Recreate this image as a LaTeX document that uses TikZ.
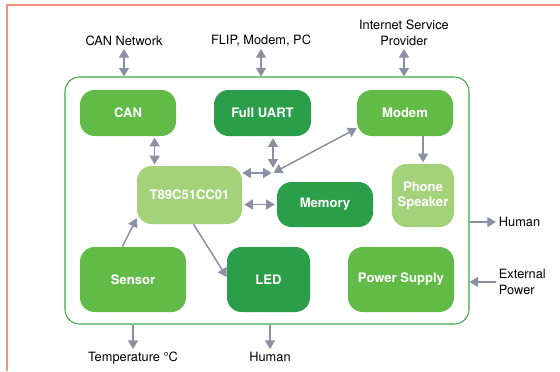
\documentclass[tikz,border=0pt]{standalone}
\usepackage{fontspec}
\setmainfont{TeX Gyre Heros}
\usetikzlibrary{arrows.meta}

\definecolor{midgreen}{HTML}{62BB47}
\definecolor{darkgreen}{HTML}{2A9E48}
\definecolor{lightgreen}{HTML}{A3D27B}
\definecolor{framegreen}{HTML}{3EA84A}
\definecolor{linkgray}{HTML}{8A8FA2}
\definecolor{salmon}{HTML}{F4907A}

\begin{document}
\begin{tikzpicture}[x=0.75pt, y=-0.75pt, >={Triangle[length=6.5pt,width=7.5pt]},
    block/.style={rounded corners=11pt, text=white, inner sep=0pt, align=center,
                  font=\bfseries\fontsize{9.8}{11.5}\selectfont},
    board/.style={draw=framegreen, line width=0.8pt, rounded corners=11pt},
    lbl/.style={inner sep=2pt, align=center, font=\fontsize{9.6}{12}\selectfont},
    link/.style={draw=linkgray, line width=1.1pt}]
    \useasboundingbox (0,0) rectangle (560,371);

    % page edge
    \draw[salmon, line width=1.5pt] (7,371) -- (7,5) -- (560,5);

    \node[board, minimum width=303pt, minimum height=185.25pt] (board) at (267,200.5) {};

    \node[block, fill=midgreen,   minimum width=72pt,    minimum height=34.5pt]  (can)    at (128,113)     {CAN};
    \node[block, fill=darkgreen,  minimum width=72.75pt, minimum height=34.5pt]  (uart)   at (262.5,113)   {Full UART};
    \node[block, fill=midgreen,   minimum width=72pt,    minimum height=34.5pt]  (modem)  at (405,113)     {Modem};
    \node[block, fill=lightgreen, minimum width=78.75pt, minimum height=43.5pt]  (t89)    at (189.5,195)   {T89C51CC01};
    \node[block, fill=darkgreen,  minimum width=72pt,    minimum height=33.75pt] (memory) at (325,204.5)   {Memory};
    \node[block, fill=lightgreen, minimum width=46.5pt,  minimum height=47.25pt] (phone)  at (423,195.5)   {Phone\\Speaker};
    \node[block, fill=midgreen,   minimum width=79.5pt,  minimum height=48.75pt] (sensor) at (133,279.5)   {Sensor};
    \node[block, fill=darkgreen,  minimum width=62.25pt, minimum height=48.75pt] (led)    at (268.5,279.5) {LED};
    \node[block, fill=midgreen,   minimum width=79.5pt,  minimum height=48.75pt] (power)  at (401,279.5)   {Power Supply};

    % outside world
    \node[lbl, anchor=south] (cannet) at (124,49)  {CAN Network};
    \node[lbl, anchor=south] (flip)   at (261,49)  {FLIP, Modem, PC};
    \node[lbl, anchor=south] (isp)    at (404,49)  {Internet Service\\Provider};
    \node[lbl, anchor=west]  (humanr) at (496,222) {Human};
    \node[lbl, anchor=west, align=left] (extpow) at (496,282) {External\\Power};
    \node[lbl, anchor=north] (temp)   at (133,349) {Temperature °C};
    \node[lbl, anchor=north] (humanb) at (270,349) {Human};

    \coordinate (hub) at (273,173);

    \draw[<->, link] (cannet.south) -- (cannet.south |- board.north);
    \draw[<->, link] (flip.south) -- (flip.south |- board.north);
    \draw[<->, link] (isp.south) -- (isp.south |- board.north);

    \draw[<->, link, shorten <=1pt, shorten >=1pt] ([xshift=20pt]can.south) -- ([xshift=20pt]can.south |- t89.north);
    \draw[<->, link, shorten <=1.5pt, shorten >=4pt] (uart.south -| hub) -- (hub);
    \draw[<->, link, shorten >=1pt] (t89.east |- hub) -- (hub);
    \draw[<->, link, shorten <=0.5pt] (hub) -- ([yshift=6pt]modem.south west);
    \draw[<->, link, shorten <=1.5pt, shorten >=1.5pt] (memory.west -| t89.east) -- (memory.west);
    \draw[->, link] ([xshift=-8pt]sensor.north) -- ([yshift=4.5pt]t89.south west);
    \draw[->, link] ([xshift=3pt]t89.south) -- ([yshift=1.9pt]led.west);
    \draw[->, link, shorten >=1pt] (modem.south -| phone.north) -- (phone.north);

    \draw[->, link] (board.east |- humanr.west) -- (humanr.west);
    \draw[->, link] (extpow.west) -- (extpow.west -| board.east);
    \draw[->, link] (board.south -| temp.north) -- (temp.north);
    \draw[->, link] (board.south -| humanb.north) -- (humanb.north);
\end{tikzpicture}
\end{document}
